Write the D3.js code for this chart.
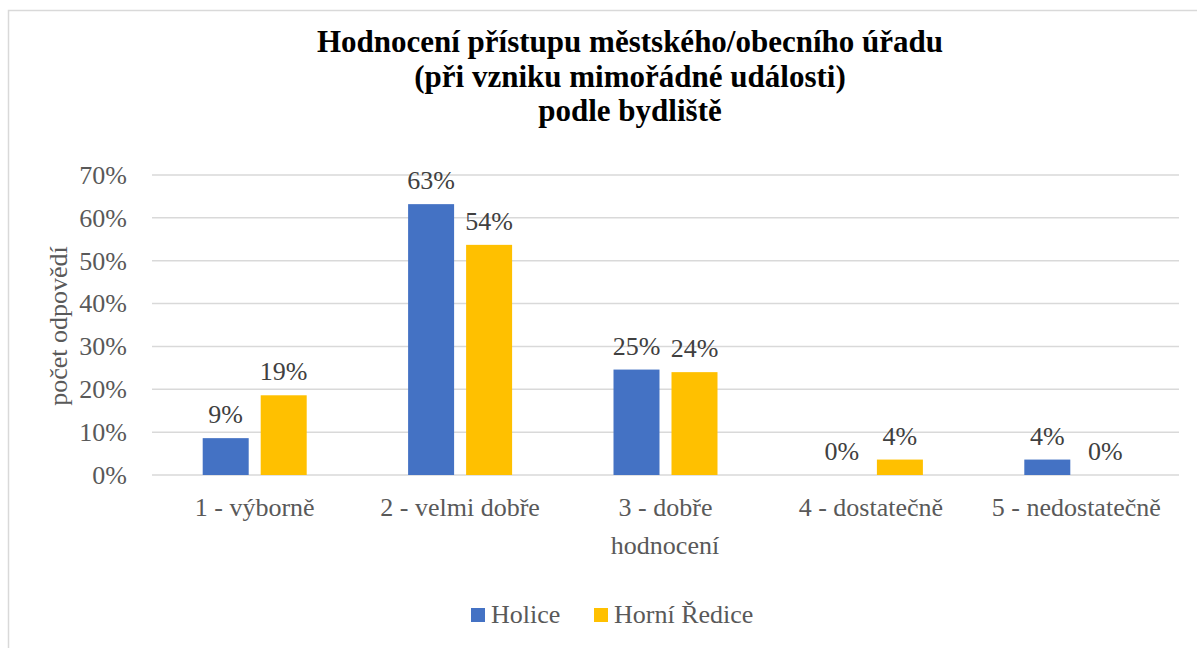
<!DOCTYPE html>
<html><head><meta charset="utf-8">
<script src="https://cdn.jsdelivr.net/npm/d3@7"></script>
</head><body style="margin:0">
<svg id="c" width="1197" height="648"></svg>
<script>
const titleLines = ["Hodnocení přístupu městského/obecního úřadu", "(při vzniku mimořádné události)", "podle bydliště"];
const categories = ["1 - výborně", "2 - velmi dobře", "3 - dobře", "4 - dostatečně", "5 - nedostatečně"];
const seriesNames = ["Holice", "Horní Ředice"];
const holice = [8.6, 63.2, 24.6, 0, 3.6];
const horniRedice = [18.6, 53.7, 24.0, 3.6, 0];
const yTicks = [0, 10, 20, 30, 40, 50, 60, 70];
const colors = ["#4472C4", "#FFC000"];
const yTitle = "počet odpovědí";
const xTitle = "hodnocení";

const svg = d3.select("#c");
const FS = 26;
const textCol = "#595959";

svg.append("rect").attr("x", 8.5).attr("y", 10.5).attr("width", 1197).attr("height", 648)
  .attr("fill", "#fff").attr("stroke", "#d9d9d9").attr("stroke-width", 1.5);

const x = d3.scaleBand().domain(categories).range([152, 1179]).paddingInner(0).paddingOuter(0);
const xs = d3.scaleBand().domain(seriesNames).range([0, 104]).paddingInner(12/58).paddingOuter(0);
const y = d3.scaleLinear().domain([0, 70]).range([475, 175]);

svg.append("g").selectAll("line").data(yTicks).join("line")
  .attr("x1", 152).attr("x2", 1179)
  .attr("y1", d => y(d)).attr("y2", d => y(d))
  .attr("stroke", "#d9d9d9").attr("stroke-width", 1.5);

const yAxis = d3.axisLeft(y).tickValues(yTicks).tickFormat(d => d + "%").tickSize(0).tickPadding(25);
const ga = svg.append("g").attr("transform", "translate(152,0)").call(yAxis);
ga.select(".domain").remove();
ga.attr("font-family", null).attr("font-size", FS);
ga.selectAll("text").attr("fill", textCol);

const xAxis = d3.axisBottom(x).tickSize(0).tickPadding(23);
const gx = svg.append("g").attr("transform", "translate(0,475)").call(xAxis);
gx.select(".domain").remove();
gx.attr("font-family", null).attr("font-size", FS);
gx.selectAll("text").attr("fill", textCol);

const data = [];
categories.forEach((c, i) => {
  data.push({c, s: seriesNames[0], v: holice[i], col: colors[0]});
  data.push({c, s: seriesNames[1], v: horniRedice[i], col: colors[1]});
});

const gb = svg.append("g");
gb.selectAll("rect").data(data.filter(d => d.v > 0)).join("rect")
  .attr("x", d => x(d.c) + (x.bandwidth() - 104) / 2 + xs(d.s))
  .attr("width", xs.bandwidth())
  .attr("y", d => y(d.v))
  .attr("height", d => y(0) - y(d.v))
  .attr("fill", d => d.col);

gb.selectAll("text").data(data).join("text")
  .attr("x", d => x(d.c) + (x.bandwidth() - 104) / 2 + xs(d.s) + xs.bandwidth() / 2)
  .attr("y", d => y(d.v) - 15)
  .attr("text-anchor", "middle")
  .attr("font-size", FS).attr("fill", "#404040")
  .text(d => Math.round(d.v) + "%");

svg.append("g").selectAll("text").data(titleLines).join("text")
  .attr("x", 630).attr("y", (d, i) => 52 + i * 34.5)
  .attr("text-anchor", "middle")
  .attr("font-weight", "bold").attr("font-size", 31).attr("fill", "#000")
  .text(d => d);

svg.append("text").attr("transform", "translate(67,326) rotate(-90)")
  .attr("text-anchor", "middle").attr("font-size", FS).attr("fill", textCol)
  .text(yTitle);
svg.append("text").attr("x", 665).attr("y", 554)
  .attr("text-anchor", "middle").attr("font-size", FS).attr("fill", textCol)
  .text(xTitle);

const legX = [471, 594];
const lg = svg.append("g").selectAll("g").data(seriesNames).join("g")
  .attr("transform", (d, i) => `translate(${legX[i]},608)`);
lg.append("rect").attr("width", 14).attr("height", 14).attr("fill", (d, i) => colors[i]);
lg.append("text").attr("x", 20).attr("y", 15).attr("font-size", FS)
  .attr("fill", textCol).text(d => d);

svg.selectAll("text").attr("font-family", "Liberation Serif")
  .style("font-family", "Liberation Serif", "important");
</script>
</body></html>
